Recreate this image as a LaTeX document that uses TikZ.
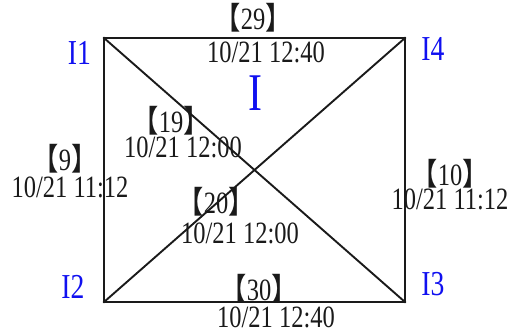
\documentclass[tikz,border=0pt]{standalone}
\usepackage{fontspec}
\setmainfont{Liberation Serif}[FakeStretch=0.79]
\newfontfamily\cjk{Noto Sans CJK SC}[FakeStretch=0.85]
\newcommand{\Unit}{1pt}
\newcommand{\Edge}{1.9pt}
\newcommand{\Tag}[1]{{\cjk 【}#1{\cjk 】}}
\definecolor{ink}{HTML}{1A1A1A}
\definecolor{mark}{HTML}{1010F0}

\begin{document}
\begin{tikzpicture}[x=\Unit,y=-\Unit, line join=miter, line cap=rect,
  stamp/.style={inner sep=0pt, anchor=base, text=ink, font=\fontsize{31}{31}\selectfont},
  corner/.style={inner sep=0pt, anchor=base, text=mark, font=\fontsize{35}{35}\selectfont}]

  \useasboundingbox (0,0) rectangle (514,333);

  % ---- the square and its corners ----------------------------------------
  \coordinate (c1) at (104,38);
  \coordinate (c4) at (405,38);
  \coordinate (c2) at (104,302);
  \coordinate (c3) at (405,302);

  \draw[ink,line width=\Edge] (c1) -- (c4) -- (c3) -- (c2) -- cycle;
  % The two diagonals cross a little right of the middle.
  \draw[ink,line width=\Edge] (c1) -- (c3);
  \draw[ink,line width=\Edge] (c2) -- (c4);

  % ---- corner names, in blue ---------------------------------------------
  \node[corner] (n1) at (79.5,64) {I1};
  \node[corner] (n4) at (433,60) {I4};
  \node[corner] (n2) at (73,298) {I2};
  \node[corner] (n3) at (433,295) {I3};
  \node[corner,font=\fontsize{53}{53}\selectfont] (area) at (255,110) {I};

  % ---- edge stamps: number over time --------------------------------------
  \node[stamp] (top)    at (253,29)  {\Tag{29}};
  \node[stamp] (topt)   at (266,62)  {10/21 12:40};
  \node[stamp] (diaga)  at (171,132) {\Tag{19}};
  \node[stamp] (diagat) at (183,157) {10/21 12:00};
  \node[stamp] (left)   at (65,170)  {\Tag{9}};
  \node[stamp] (leftt)  at (70,197)  {10/21 11:12};
  \node[stamp] (diagb)  at (216,213) {\Tag{20}};
  \node[stamp] (diagbt) at (240,243) {10/21 12:00};
  \node[stamp] (right)  at (450,185) {\Tag{10}};
  \node[stamp] (rightt) at (450,209) {10/21 11:12};
  \node[stamp] (bot)    at (259,300) {\Tag{30}};
  \node[stamp] (bott)   at (276,327) {10/21 12:40};

\end{tikzpicture}
\end{document}
